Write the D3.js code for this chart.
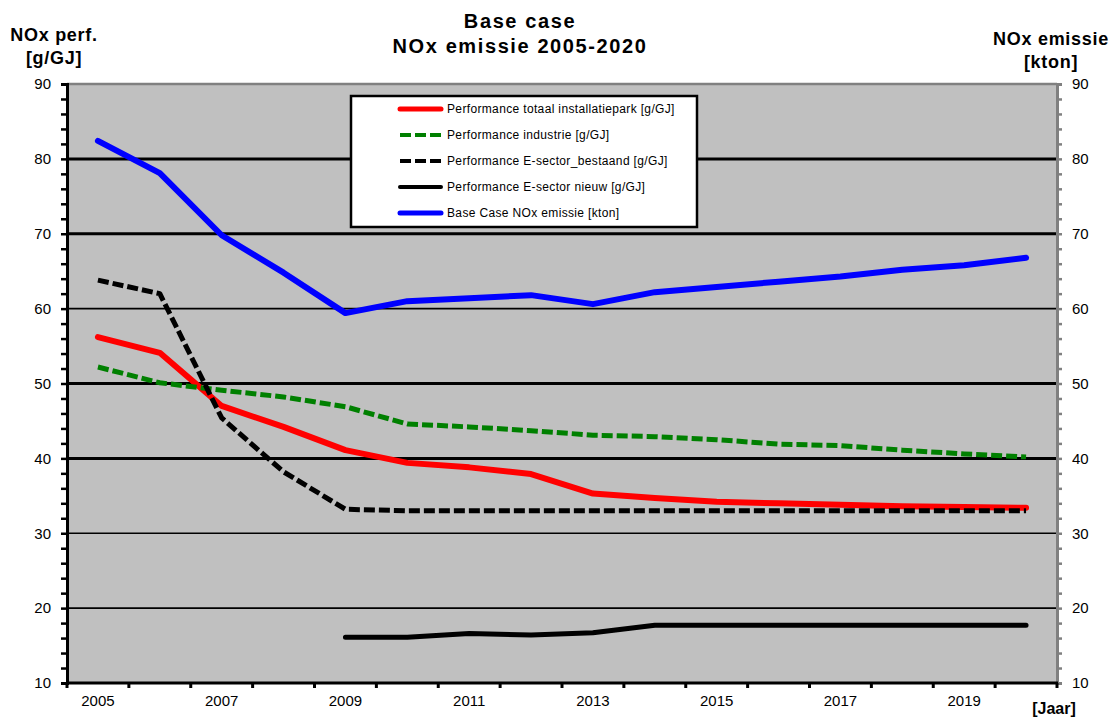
<!DOCTYPE html>
<html>
<head>
<meta charset="utf-8">
<script src="https://cdn.jsdelivr.net/npm/d3@7"></script>
<style>
  body { margin: 0; background: #fff; }
  svg { display: block; font-family: "Liberation Sans", Arial, sans-serif; }
</style>
</head>
<body>
<svg id="chart" width="1113" height="717"></svg>
<script>
const years = [2005,2006,2007,2008,2009,2010,2011,2012,2013,2014,2015,2016,2017,2018,2019,2020];
const labelYears = [2005,2007,2009,2011,2013,2015,2017,2019];
const yTicks = [10,20,30,40,50,60,70,80,90];

const totaalPark   = [56.2,54.1,47.0,44.2,41.1,39.4,38.8,37.9,35.3,34.7,34.2,34.0,33.8,33.6,33.5,33.4];
const industrie    = [52.2,50.1,49.1,48.2,46.9,44.6,44.2,43.7,43.1,42.9,42.5,41.9,41.7,41.1,40.6,40.2];
const eBestaand    = [63.8,62.0,45.4,38.2,33.2,33.0,33.0,33.0,33.0,33.0,33.0,33.0,33.0,33.0,33.0,33.0];
const eNieuw       = [null,null,null,null,16.1,16.1,16.6,16.4,16.7,17.7,17.7,17.7,17.7,17.7,17.7,17.7];
const noxEmissie   = [82.4,78.1,69.8,64.8,59.4,61.0,61.4,61.8,60.6,62.2,62.9,63.6,64.3,65.2,65.8,66.8];

const seriesNames = [
  "Performance totaal installatiepark [g/GJ]",
  "Performance industrie [g/GJ]",
  "Performance E-sector_bestaand [g/GJ]",
  "Performance E-sector nieuw [g/GJ]",
  "Base Case NOx emissie [kton]"
];

const series = [
  { name: seriesNames[0], values: totaalPark, color: "#ff0000", width: 6, dash: null },
  { name: seriesNames[1], values: industrie,  color: "#008000", width: 5, dash: "11,4" },
  { name: seriesNames[2], values: eBestaand,  color: "#000000", width: 5, dash: "11,4" },
  { name: seriesNames[3], values: eNieuw,     color: "#000000", width: 5, dash: null },
  { name: seriesNames[4], values: noxEmissie, color: "#0000ff", width: 6, dash: null }
];

const svg = d3.select("#chart");
const L = 67, R = 1057, T = 84, B = 683;

const x = d3.scaleBand().domain(years).range([L, R]).padding(0);
const xc = d => x(d) + x.bandwidth() / 2;
const yL = d3.scaleLinear().domain([10, 90]).range([B, T]);
const yR = d3.scaleLinear().domain([10, 90]).range([B, T]);

// plot background
svg.append("rect").attr("x", L).attr("y", T).attr("width", R - L).attr("height", B - T).attr("fill", "#c0c0c0");

// gridlines
const thick = new Set([40, 50, 70, 80]);
svg.append("g").selectAll("line").data(yTicks.filter(v => v > 10 && v < 90)).join("line")
  .attr("x1", L).attr("x2", R)
  .attr("y1", d => yL(d)).attr("y2", d => yL(d))
  .attr("stroke", "#000").attr("stroke-width", d => thick.has(d) ? 3 : 1.6);

// top border (gray)
svg.append("line").attr("x1", L).attr("x2", R).attr("y1", T).attr("y2", T).attr("stroke", "#808080").attr("stroke-width", 2.5);

// lines
const line = d3.line().defined(d => d.v != null).x(d => xc(d.year)).y(d => yL(d.v));
series.forEach(s => {
  const pts = years.map((yr, i) => ({ year: yr, v: s.values[i] }));
  svg.append("path").datum(pts)
    .attr("d", line)
    .attr("fill", "none")
    .attr("stroke", s.color)
    .attr("stroke-width", s.width)
    .attr("stroke-linejoin", "round")
    .attr("stroke-linecap", s.dash ? "butt" : "round")
    .attr("stroke-dasharray", s.dash);
});

const fontFam = "Liberation Sans, Arial, sans-serif";

// left axis
const minor = d3.range(10, 91, 2);
const gL = svg.append("g").attr("transform", `translate(${L},0)`)
  .call(d3.axisLeft(yL).tickValues(minor).tickSize(6).tickPadding(10)
    .tickFormat(d => d % 10 === 0 ? d : ""));
gL.select(".domain").attr("stroke", "#000").attr("stroke-width", 3);
gL.selectAll(".tick line").attr("stroke", "#000").attr("stroke-width", 2.5);
gL.selectAll("text").attr("font-size", 15).attr("fill", "#000").attr("font-family", fontFam);

// right axis
const gR = svg.append("g").attr("transform", `translate(${R},0)`)
  .call(d3.axisRight(yR).tickValues(minor).tickSize(5).tickPadding(10)
    .tickFormat(d => d % 10 === 0 ? d : ""));
gR.select(".domain").attr("stroke", "#808080").attr("stroke-width", 3);
gR.selectAll(".tick line").attr("stroke", "#808080").attr("stroke-width", 2.5);
gR.selectAll("text").attr("font-size", 15).attr("fill", "#000").attr("font-family", fontFam);

// bottom axis (labels)
const gB = svg.append("g").attr("transform", `translate(0,${B})`)
  .call(d3.axisBottom(x).tickSize(0).tickPadding(12)
    .tickFormat(d => labelYears.includes(d) ? d : ""));
gB.select(".domain").remove();
gB.selectAll("text").attr("font-size", 15).attr("fill", "#000").attr("font-family", fontFam);
// bottom axis boundary ticks
const bounds = years.map(d => x(d)).concat([x.range()[1]]);
svg.append("g").selectAll("line").data(bounds).join("line")
  .attr("x1", d => d).attr("x2", d => d).attr("y1", B).attr("y2", B + 5)
  .attr("stroke", "#000").attr("stroke-width", 3);
svg.append("line").attr("x1", L - 1).attr("x2", R + 1).attr("y1", B).attr("y2", B).attr("stroke", "#000").attr("stroke-width", 3);

// titles
const title = svg.append("text").attr("x", 520).attr("text-anchor", "middle")
  .attr("font-weight", "bold").attr("font-size", 20).attr("letter-spacing", 1.6).attr("fill", "#000");
title.append("tspan").attr("x", 520).attr("y", 28).text("Base case");
title.append("tspan").attr("x", 520).attr("y", 53).text("NOx emissie 2005-2020");

const lt = svg.append("text").attr("text-anchor", "middle").attr("font-weight", "bold")
  .attr("font-size", 18).attr("letter-spacing", 0.7).attr("fill", "#000");
lt.append("tspan").attr("x", 54).attr("y", 41).text("NOx perf.");
lt.append("tspan").attr("x", 54).attr("y", 64).text("[g/GJ]");

const rt = svg.append("text").attr("text-anchor", "middle").attr("font-weight", "bold")
  .attr("font-size", 18).attr("letter-spacing", 0.7).attr("fill", "#000");
rt.append("tspan").attr("x", 1051).attr("y", 45).text("NOx emissie");
rt.append("tspan").attr("x", 1051).attr("y", 68).text("[kton]");

svg.append("text").attr("x", 1054).attr("y", 714).attr("text-anchor", "middle")
  .attr("font-weight", "bold").attr("font-size", 16).attr("fill", "#000").text("[Jaar]");

// legend
const lg = svg.append("g");
lg.append("rect").attr("x", 351).attr("y", 96).attr("width", 346).attr("height", 131)
  .attr("fill", "#fff").attr("stroke", "#000").attr("stroke-width", 2.5);
const rowY = [109, 135, 161, 187, 213];
series.forEach((s, i) => {
  lg.append("line").attr("x1", 400).attr("x2", 441).attr("y1", rowY[i]).attr("y2", rowY[i])
    .attr("stroke", s.color).attr("stroke-width", s.width - 1)
    .attr("stroke-dasharray", s.dash ? "11,4" : null)
    .attr("stroke-linecap", s.dash ? "butt" : "round");
  lg.append("text").attr("x", 447).attr("y", rowY[i] + 4).attr("font-size", 12)
    .attr("letter-spacing", 0.35).attr("fill", "#000").text(s.name);
});
</script>
</body>
</html>
